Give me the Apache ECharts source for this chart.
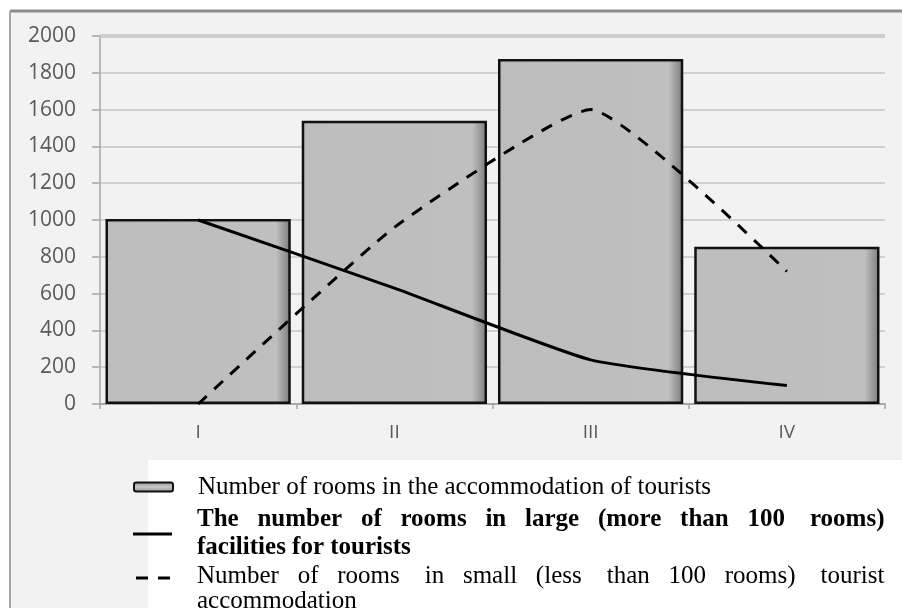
<!DOCTYPE html>
<html><head><meta charset="utf-8">
<script src="https://cdn.jsdelivr.net/npm/echarts@6/dist/echarts.min.js"></script>
<style>html,body{margin:0;padding:0;background:#fff}#c{width:902px;height:608px}</style>
</head><body><div id="c"></div>
<script>
// ---- data ----
const categories = ['I', 'II', 'III', 'IV'];
const totalRooms = [1005, 1540, 1875, 855];
const largeRooms = [1000, 630, 240, 100];
const smallRooms = [0, 960, 1600, 720];
const yMin = 0, yMax = 2000, yStep = 200;
const legendLines = [
  ['Number of rooms in the accommodation of tourists'],
  ['The number of rooms in large (more than 100 rooms)', 'facilities for tourists'],
  ['Number of rooms in small (less than 100 rooms) tourist', 'accommodation']
];
const seriesNames = legendLines.map(l => l.join(' '));

// ---- text justification helper (legend) ----
const LEG_FONT = 'Liberation Serif';
const LEG_SIZE = 25;
const LEG_WIDTH = 686;
const cv = document.createElement('canvas').getContext('2d');
function measure(t, font) { cv.font = font; return cv.measureText(t).width; }
function justify(line, width, font) {
  const words = line.split(' ');
  const gaps = words.length - 1;
  if (gaps < 1) return line;
  const base = measure(words.join(' '), font);
  const sp = measure(' ', font);
  const k = Math.max(0, Math.round((width - base) / sp));
  let out = words[0];
  for (let i = 1; i < words.length; i++) {
    const add = Math.floor(k * i / gaps) - Math.floor(k * (i - 1) / gaps);
    out += ' '.repeat(1 + add) + words[i];
  }
  return out;
}
function legendText(name) {
  const idx = seriesNames.indexOf(name);
  const lines = legendLines[idx];
  const font = (idx === 1 ? 'bold ' : '') + LEG_SIZE + 'px "' + LEG_FONT + '"';
  return lines.map((l, i) => i < lines.length - 1 ? justify(l, LEG_WIDTH, font) : l).join('\n');
}

const barFill = new echarts.graphic.LinearGradient(0, 0, 1, 0, [
  { offset: 0, color: '#bdbdbd' },
  { offset: 0.92, color: '#bfbfbf' },
  { offset: 1, color: '#7a7a7a' }
]);
const legendIconFill = new echarts.graphic.LinearGradient(0, 0, 0, 1, [
  { offset: 0, color: '#8a8a8a' },
  { offset: 0.5, color: '#c8c8c8' },
  { offset: 1, color: '#8a8a8a' }
]);

function makeLegend(i, top, left, iconW, iconH, icon, lineH, extra) {
  return {
    orient: 'vertical', left: left, top: top, padding: 0,
    itemWidth: iconW, itemHeight: iconH, itemGap: 0,
    selectedMode: false,
    formatter: legendText,
    textStyle: { fontFamily: LEG_FONT, fontSize: LEG_SIZE, color: '#000', lineHeight: lineH,
      padding: [0, 0, 0, 197 - left - iconW - 5], fontWeight: i === 1 ? 'bold' : 'normal' },
    data: [Object.assign({ name: seriesNames[i], icon: icon }, extra || {})]
  };
}

const chart = echarts.init(document.getElementById('c'), null, { renderer: 'canvas' });
chart.setOption({
  animation: false,
  backgroundColor: '#ffffff',
  graphic: [
    { type: 'rect', z: -10, silent: true, shape: { x: 10, y: 11, width: 892, height: 597 }, style: { fill: '#f2f2f2' } },
    { type: 'line', z: -9, silent: true, shape: { x1: 10, y1: 11, x2: 902, y2: 11 }, style: { stroke: '#8c8c8c', lineWidth: 3 } },
    { type: 'line', z: -9, silent: true, shape: { x1: 10, y1: 11, x2: 10, y2: 608 }, style: { stroke: '#a6a6a6', lineWidth: 2 } },
    { type: 'rect', z: -8, silent: true, shape: { x: 148, y: 460, width: 754, height: 148 }, style: { fill: '#ffffff' } }
  ],
  grid: { left: 100, right: 17, top: 36, bottom: 204, containLabel: false },
  xAxis: {
    type: 'category',
    data: categories,
    boundaryGap: true,
    axisLine: { show: true, lineStyle: { color: '#a6a6a6', width: 2 } },
    axisTick: { show: true, length: 5, lineStyle: { color: '#a6a6a6', width: 1.5 } },
    axisLabel: { color: '#595959', fontFamily: 'Open Sans', fontSize: 19, margin: 19 }
  },
  yAxis: {
    type: 'value',
    min: yMin, max: yMax, interval: yStep,
    axisLine: { show: true, lineStyle: { color: '#a6a6a6', width: 1.5 } },
    axisTick: { show: true, length: 8, lineStyle: { color: '#a6a6a6', width: 1.5 } },
    axisLabel: { color: '#595959', fontFamily: 'Open Sans', fontSize: 21, margin: 24, formatter: v => String(v) },
    splitLine: { show: true, lineStyle: { color: '#c4c4c4', width: 1.5 } }
  },
  legend: [
    makeLegend(0, 473, 133, 39, 9, 'roundRect', 28, { itemStyle: { color: legendIconFill, borderColor: '#111', borderWidth: 2 } }),
    makeLegend(1, 506, 133, 39, 3, 'rect', 28, { itemStyle: { color: '#000', borderWidth: 0 } }),
    makeLegend(2, 564, 136, 34, 25, 'path://M0,0H12V3H0ZM22,0H34V3H22ZM33.99,24.99H34V25H33.99Z', 25, { itemStyle: { color: '#000', borderWidth: 0 } })
  ],
  series: [
    {
      name: seriesNames[0],
      type: 'bar',
      data: totalRooms,
      barWidth: '94.4%',
      itemStyle: { color: barFill, borderColor: '#111', borderWidth: 2.5 },
      markLine: {
        silent: true, symbol: 'none', label: { show: false },
        lineStyle: { color: '#cfcfcf', width: 4, type: 'solid' },
        data: [{ yAxis: yMax }]
      },
      z: 2
    },
    {
      name: seriesNames[1],
      type: 'line',
      data: largeRooms,
      smooth: 0.15,
      symbol: 'none',
      lineStyle: { color: '#000', width: 3, type: 'solid' },
      itemStyle: { color: '#000' },
      z: 5
    },
    {
      name: seriesNames[2],
      type: 'line',
      data: smallRooms,
      smooth: 0.15,
      symbol: 'none',
      lineStyle: { color: '#000', width: 3, type: [12, 10] },
      itemStyle: { color: '#000' },
      z: 5
    }
  ]
});
</script>
</body></html>
